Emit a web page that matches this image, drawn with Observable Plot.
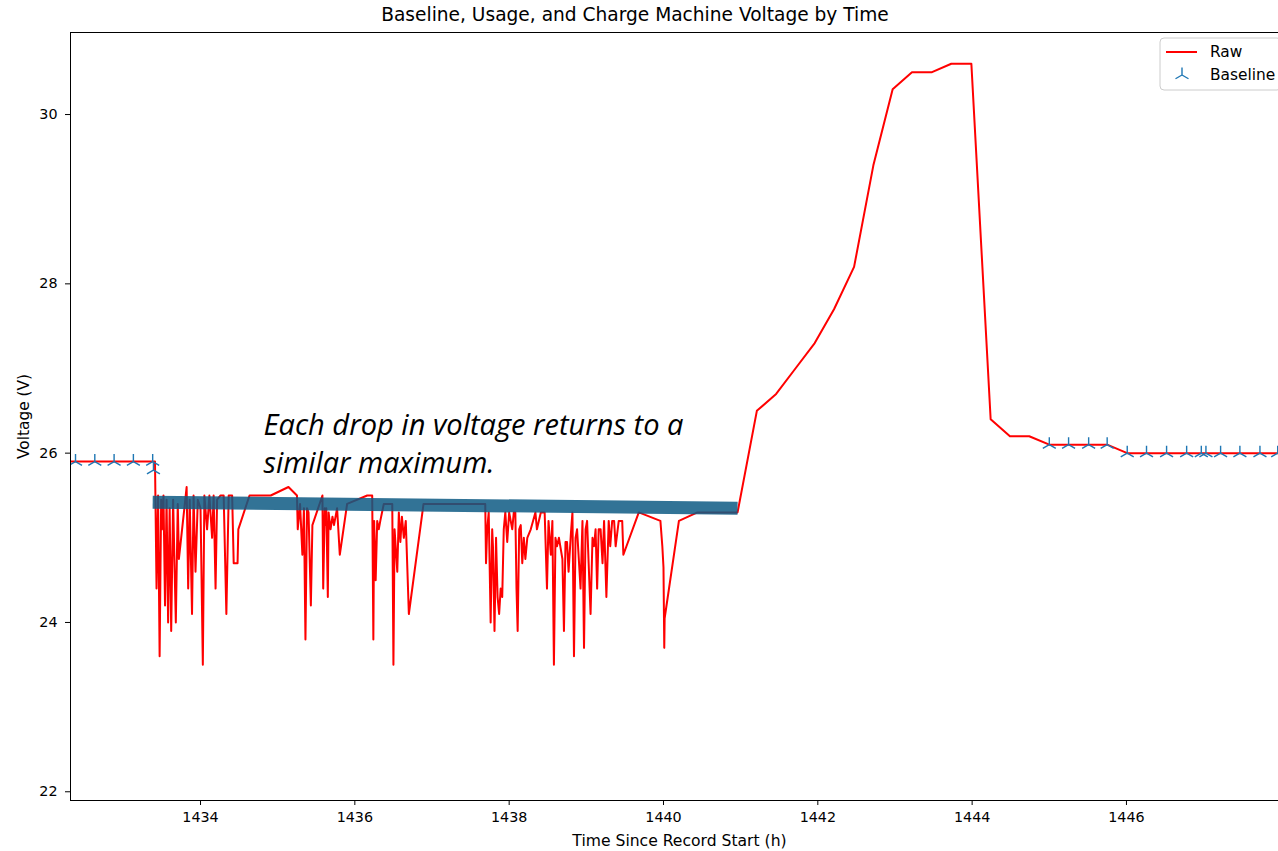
<!DOCTYPE html>
<html><head><meta charset="utf-8">
<script src="https://cdn.jsdelivr.net/npm/d3@7"></script>
<script src="https://cdn.jsdelivr.net/npm/@observablehq/plot@0.6"></script>
<style>html,body{margin:0;padding:0;background:#fff;overflow:hidden;} svg{display:block;max-width:none !important}</style>
</head><body><div id="chart"></div>
<script>
// ---- data (hours since record start, volts) ----
const titleText = "Baseline, Usage, and Charge Machine Voltage by Time";
const xLabel = "Time Since Record Start (h)";
const yLabel = "Voltage (V)";
const xTicks = [1434, 1436, 1438, 1440, 1442, 1444, 1446];
const yTicks = [22, 24, 26, 28, 30];
const annotLine1 = "Each drop in voltage returns to a";
const annotLine2 = "similar maximum.";
const legendLabels = ["Raw", "Baseline"];

const rawRestStart = [[1432.13,25.9],[1432.38,25.9],[1432.63,25.9],[1432.88,25.9],[1433.13,25.9],[1433.41,25.9]];
const rawUsage = [
[1433.43,24.4],[1433.45,25.5],[1433.47,23.6],[1433.49,25.45],[1433.50,25.1],[1433.52,25.5],[1433.54,24.2],[1433.56,25.45],[1433.58,24.0],[1433.60,25.35],[1433.62,23.9],[1433.645,25.45],[1433.665,24.6],[1433.68,24.0],[1433.705,25.4],[1433.72,24.75],[1433.82,25.6],[1433.84,24.4],[1433.86,25.45],[1433.89,24.1],[1433.91,25.5],[1433.935,24.6],[1433.965,25.45],[1434.0,25.35],[1434.03,23.5],[1434.05,25.5],[1434.085,25.1],[1434.115,25.5],[1434.15,25.0],[1434.17,25.5],[1434.195,24.4],[1434.215,25.45],[1434.26,25.5],[1434.30,25.5],[1434.335,24.1],[1434.365,25.5],[1434.41,25.5],[1434.43,24.7],[1434.48,24.7],[1434.49,25.1],[1434.635,25.5],
[1434.91,25.5],[1435.14,25.6],[1435.25,25.5],[1435.26,25.1],[1435.29,25.4],[1435.32,24.8],[1435.34,25.35],[1435.36,23.8],[1435.38,25.35],[1435.40,25.3],[1435.43,24.2],[1435.45,25.15],[1435.58,25.5],[1435.59,24.4],[1435.61,25.35],[1435.62,25.15],[1435.63,25.35],[1435.65,24.3],[1435.66,25.3],[1435.685,25.1],[1435.71,25.25],[1435.73,25.15],[1435.77,25.35],[1435.805,24.8],[1435.90,25.4],[1436.16,25.5],[1436.225,25.5],[1436.24,23.8],[1436.25,25.2],[1436.27,24.5],[1436.29,25.2],[1436.31,25.1],[1436.33,25.2],[1436.375,25.4],[1436.485,25.4],[1436.50,23.5],[1436.515,25.1],[1436.55,24.6],[1436.57,25.3],[1436.59,24.95],[1436.61,25.25],[1436.635,25.0],[1436.66,25.2],[1436.70,24.1],[1436.89,25.4],
[1437.69,25.4],[1437.70,24.7],[1437.715,25.1],[1437.735,25.3],[1437.76,24.0],[1437.78,25.1],[1437.79,24.9],[1437.81,23.9],[1437.83,25.0],[1437.85,24.3],[1437.87,24.1],[1437.89,24.4],[1437.91,24.3],[1437.93,25.1],[1437.95,25.3],[1437.975,24.95],[1438.0,25.3],[1438.04,25.1],[1438.06,25.3],[1438.08,25.3],[1438.095,24.4],[1438.11,23.9],[1438.13,25.1],[1438.15,25.15],[1438.17,24.7],[1438.19,25.0],[1438.21,24.75],[1438.235,25.0],[1438.28,25.1],[1438.34,25.3],[1438.36,25.1],[1438.41,25.3],[1438.46,25.3],[1438.49,24.4],[1438.51,25.2],[1438.54,24.8],[1438.56,25.2],[1438.58,23.5],[1438.60,25.0],[1438.62,24.9],[1438.645,25.0],[1438.69,24.75],[1438.71,23.9],[1438.73,24.95],[1438.75,24.95],[1438.77,24.6],[1438.80,25.05],[1438.82,25.3],[1438.84,23.6],[1438.86,25.0],[1438.88,25.1],[1438.925,24.4],[1438.95,25.2],[1438.97,23.7],[1438.99,25.1],[1439.01,25.2],[1439.03,24.7],[1439.055,24.1],[1439.08,25.0],[1439.10,24.9],[1439.12,25.1],[1439.14,24.4],[1439.16,25.1],[1439.185,25.1],[1439.21,24.7],[1439.23,25.2],[1439.26,24.3],[1439.29,25.2],[1439.31,24.9],[1439.335,25.2],[1439.36,25.2],[1439.38,24.9],[1439.42,25.2],[1439.465,25.2],[1439.48,24.8],[1439.68,25.3],[1439.96,25.2],[1439.985,24.9],[1440.0,24.65],[1440.01,23.7],[1440.015,24.05],[1440.20,25.2],[1440.44,25.3],[1440.96,25.3]
];
const rawCharge = [[1441.21,26.5],[1441.46,26.7],[1441.71,27.0],[1441.96,27.3],[1442.21,27.7],[1442.47,28.2],[1442.72,29.4],[1442.97,30.3],[1443.22,30.5],[1443.48,30.5],[1443.73,30.6],[1443.99,30.6],[1444.24,26.4],[1444.49,26.2],[1444.74,26.2]];
const rawRestEnd = [[1445.0,26.1],[1445.25,26.1],[1445.5,26.1],[1445.75,26.1],[1446.01,26.0],[1446.26,26.0],[1446.52,26.0],[1446.78,26.0],[1447.0,26.0],[1447.22,26.0],[1447.47,26.0],[1447.73,26.0],[1447.97,26.0],[1448.22,26.0]];

const baseline = [[1432.38,25.9],[1432.63,25.9],[1432.88,25.9],[1433.13,25.9],[1433.38,25.9],[1433.39,25.8],
[1445.0,26.1],[1445.25,26.1],[1445.51,26.1],[1445.75,26.1],
[1446.01,26.0],[1446.26,26.0],[1446.52,26.0],[1446.78,26.0],[1446.97,26.0],[1447.03,26.0],[1447.22,26.0],[1447.47,26.0],[1447.73,26.0],[1447.96,26.0]];

const bandTime = [1433.38, 1440.96];
const bandVolt = [25.42, 25.35];

// ---- build ----
const raw = [...rawRestStart, ...rawUsage, ...rawCharge, ...rawRestEnd];
const band = bandTime.map((t, i) => [t, bandVolt[i]]);

const triUp = {
  draw(ctx, size) {
    const r = Math.sqrt(size / Math.PI);
    const c = Math.cos(Math.PI / 6) * r, s = Math.sin(Math.PI / 6) * r;
    ctx.moveTo(0, 0); ctx.lineTo(0, -r);
    ctx.moveTo(0, 0); ctx.lineTo(-c, s);
    ctx.moveTo(0, 0); ctx.lineTo(c, s);
  }
};

const blue = "#1f77b4";
const annotFont = "'Open Sans', 'Noto Sans', sans-serif";

const svg = Plot.plot({
  width: 1288, height: 851,
  marginLeft: 70, marginRight: 0, marginTop: 32, marginBottom: 51,
  style: {fontFamily: "'DejaVu Sans', sans-serif", fontSize: "14px", background: "#fff", color: "#000", overflow: "visible", maxWidth: "none"},
  x: {domain: [1432.315, 1448.10]},
  y: {domain: [21.897, 30.969]},
  marks: [
    Plot.axisX({ticks: xTicks, tickSize: 5, tickPadding: 6, tickFormat: d3.format("d"), label: null, fontSize: 14.3}),
    Plot.axisY({ticks: yTicks, tickSize: 5, tickPadding: 8, tickFormat: d3.format("d"), label: null, fontSize: 14.3}),
    Plot.line(raw, {x: d => d[0], y: d => d[1], stroke: "#ff0000", strokeWidth: 2, clip: true}),
    Plot.dot(baseline, {x: d => d[0], y: d => d[1], symbol: triUp, r: 7.5, stroke: blue, fill: "none", strokeWidth: 1.4, clip: true}),
    Plot.line(band, {x: d => d[0], y: d => d[1], stroke: "#0e5a84", strokeOpacity: 0.85, strokeWidth: 13, strokeLinecap: "butt"}),
    Plot.frame({stroke: "#000", strokeWidth: 1}),
    Plot.text([annotLine1], {text: d => d, frameAnchor: "top-left", dx: 193, dy: 393, textAnchor: "start", lineAnchor: "middle", fontSize: 30, fontStyle: "italic", fontFamily: annotFont, fill: "#000"}),
    Plot.text([annotLine2], {text: d => d, frameAnchor: "top-left", dx: 193, dy: 431, textAnchor: "start", lineAnchor: "middle", fontSize: 30, fontStyle: "italic", fontFamily: annotFont, fill: "#000"}),
    Plot.text([titleText], {text: d => d, frameAnchor: "top", dx: -44.5, dy: -17, lineAnchor: "middle", textAnchor: "middle", fontSize: 18.6}),
    Plot.text([xLabel], {text: d => d, frameAnchor: "bottom", dy: 40, lineAnchor: "middle", textAnchor: "middle", fontSize: 15.6}),
    Plot.text([yLabel], {text: d => d, frameAnchor: "left", dx: -46, rotate: -90, lineAnchor: "middle", textAnchor: "middle", fontSize: 15.4})
  ]
});

const s = d3.select(svg);
s.selectAll("text").filter(function () { return this.textContent === annotLine1; })
  .attr("textLength", 420).attr("lengthAdjust", "spacingAndGlyphs");
s.selectAll("text").filter(function () { return this.textContent === annotLine2; })
  .attr("textLength", 231).attr("lengthAdjust", "spacingAndGlyphs");

// legend
const lg = s.append("g").attr("font-family", "'DejaVu Sans', sans-serif").attr("font-size", 15.4).attr("text-anchor", "start");
lg.append("rect").attr("x", 1160).attr("y", 38).attr("width", 121).attr("height", 52).attr("rx", 4)
  .attr("fill", "#fff").attr("fill-opacity", 0.8).attr("stroke", "#cccccc");
lg.append("line").attr("x1", 1166).attr("x2", 1197).attr("y1", 52).attr("y2", 52).attr("stroke", "#ff0000").attr("stroke-width", 2);
lg.append("text").attr("x", 1210).attr("y", 52).attr("dy", "0.35em").attr("fill", "#000").text(legendLabels[0]);
lg.append("path").attr("transform", "translate(1182,75)")
  .attr("d", "M0,0L0,-7.5M0,0L-6.5,3.75M0,0L6.5,3.75").attr("stroke", blue).attr("stroke-width", 1.4).attr("fill", "none");
lg.append("text").attr("x", 1210).attr("y", 75).attr("dy", "0.35em").attr("fill", "#000").text(legendLabels[1]);

document.getElementById("chart").appendChild(svg);
</script>
</body></html>
